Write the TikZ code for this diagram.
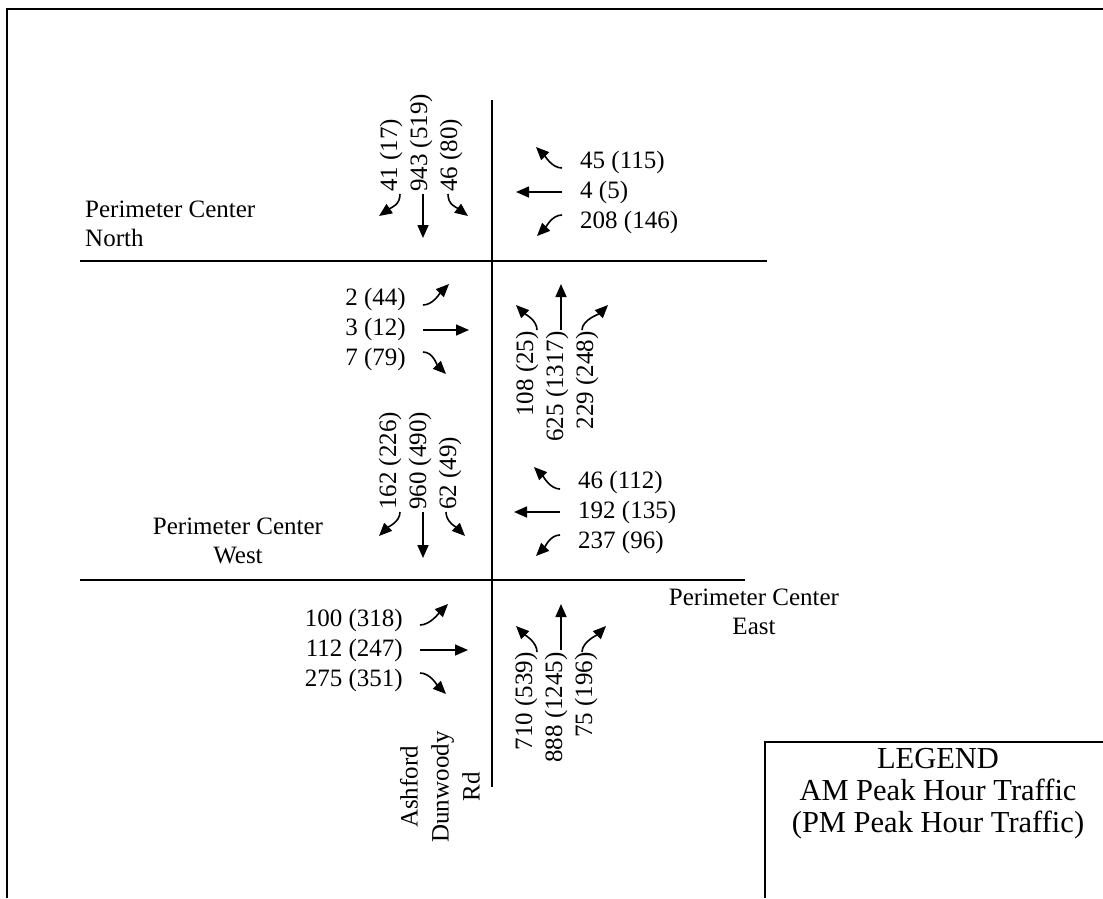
\documentclass[tikz,border=0pt]{standalone}
\usepackage{fontspec}
\setmainfont{Liberation Serif}
\usetikzlibrary{arrows.meta}
\begin{document}
\begin{tikzpicture}[x=1pt,y=-1pt,
  road/.style={line width=1.7pt},
  frame/.style={line width=1.8pt},
  mv/.style={line width=1.6pt,-{Triangle[length=13pt,width=11pt]}},
  lbl/.style={inner sep=0pt,font=\fontsize{25}{28.5}\selectfont},
  nums/.style={inner sep=0pt,font=\fontsize{25}{30}\selectfont},
  vnums/.style={nums,rotate=90},
  legendtext/.style={inner sep=0pt,font=\fontsize{30.5}{32}\selectfont,align=center},
]
\useasboundingbox (0,0) rectangle (1103,898);
\fill[white] (0,0) rectangle (1103,898);
% outer frame
\draw[frame] (7,898) -- (7,9) -- (1103,9);
% roads
\coordinate (rtop) at (492,100);
\coordinate (rbot) at (492,787);
\coordinate (nw) at (80,261);
\coordinate (ne) at (767,261);
\coordinate (sw) at (80,580);
\coordinate (se) at (745,580);
\draw[road] (rtop) -- (rbot);
\draw[road] (nw) -- (ne);
\draw[road] (sw) -- (se);
% street labels
\node[lbl,anchor=west,align=left] (pcn) at (85,224) {Perimeter Center\\North};
\node[lbl,align=center] (pcw) at (238,541) {Perimeter Center\\West};
\node[lbl,align=center] (pce) at (754,612) {Perimeter Center\\East};
\node[lbl,rotate=90,align=center,font=\fontsize{25}{31}\selectfont] (adr) at (440,787) {Ashford\\Dunwoody\\Rd};
% legend
\draw[frame] (765,898) -- (765,742) -- (1103,742);
\node[legendtext] (leg) at (938,794) {LEGEND\\AM Peak Hour Traffic\\(PM Peak Hour Traffic)};

% ---- north intersection ----
% southbound (north leg)
\node[vnums,anchor=west,align=left] (sbN) at (421,192) {41 (17)\\943 (519)\\46 (80)};
\draw[mv] (400,194) .. controls (400,205) and (392,207) .. (379,216);
\draw[mv] (423,194) -- (423,238);
\draw[mv] (448,194) .. controls (448,205) and (456,207) .. (468,216);
% westbound (east leg)
\node[nums,anchor=west,align=left] (wbN) at (580,192.5) {45 (115)\\4 (5)\\208 (146)};
\draw[mv] (562,168) .. controls (552,168) and (545,156) .. (536,147);
\draw[mv] (562,192) -- (516,192);
\draw[mv] (562,215) .. controls (552,215) and (546,227) .. (537,236);
% eastbound (west leg, between roads)
\node[nums,anchor=east,align=right] (ebN) at (406,329.5) {2 (44)\\3 (12)\\7 (79)};
\draw[mv] (423,305) .. controls (433,305) and (440,293) .. (449,284);
\draw[mv] (423,330) -- (469,330);
\draw[mv] (423,352) .. controls (433,352) and (437,365) .. (446,374);
% northbound (between roads)
\node[vnums,anchor=east,align=right] (nbN) at (557,331) {108 (25)\\625 (1317)\\229 (248)};
\draw[mv] (537,330) .. controls (537,320) and (525,314) .. (516,305);
\draw[mv] (561,330) -- (561,284);
\draw[mv] (582,330) .. controls (582,320) and (599,314) .. (608,305);

% ---- south intersection ----
% southbound
\node[vnums,anchor=west,align=left] (sbS) at (420,510) {162 (226)\\960 (490)\\62 (49)};
\draw[mv] (400,512) .. controls (400,522) and (388,527) .. (379,536);
\draw[mv] (423,512) -- (423,558);
\draw[mv] (446,512) .. controls (446,522) and (456,527) .. (465,536);
% westbound
\node[nums,anchor=west,align=left] (wbS) at (578,512.5) {46 (112)\\192 (135)\\237 (96)};
\draw[mv] (560,489) .. controls (550,489) and (543,476) .. (534,467);
\draw[mv] (560,512) -- (514,512);
\draw[mv] (560,535) .. controls (550,535) and (545,547) .. (536,556);
% eastbound
\node[nums,anchor=east,align=right] (ebS) at (403,650) {100 (318)\\112 (247)\\275 (351)};
\draw[mv] (420,625) .. controls (430,625) and (439,613) .. (448,604);
\draw[mv] (420,650) -- (468,650);
\draw[mv] (420,673) .. controls (430,673) and (437,685) .. (446,694);
% northbound
\node[vnums,anchor=east,align=right] (nbS) at (556,652) {710 (539)\\888 (1245)\\75 (196)};
\draw[mv] (537,652) .. controls (537,642) and (525,635) .. (516,626);
\draw[mv] (561,650) -- (561,604);
\draw[mv] (582,652) .. controls (582,642) and (597,635) .. (606,626);
\end{tikzpicture}
\end{document}
